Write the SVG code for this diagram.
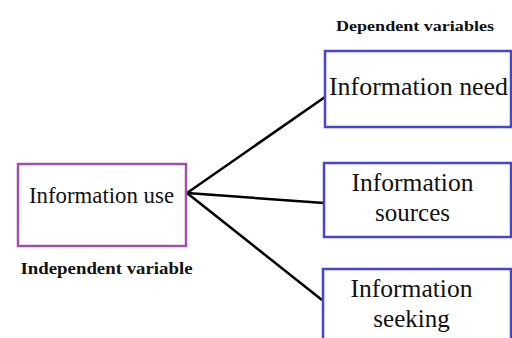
<svg xmlns="http://www.w3.org/2000/svg" width="512" height="338" viewBox="0 0 512 338">
<style>
.box{fill:#fff;stroke-width:2.5}
.iv{stroke:#A050AC}
.dv{stroke:#4646D6}
.t{font-family:'Liberation Serif','DejaVu Serif','Noto Serif',Times,serif;fill:#111;text-anchor:middle}
.lbl{font-family:'Liberation Serif','DejaVu Serif','Noto Serif',Times,serif;font-weight:bold;fill:#111}
.c{stroke:#000;stroke-width:2.5;fill:none}
</style>
<rect width="512" height="338" fill="#fff"/>
<g id="connectors">
<line class="c" x1="187" y1="193" x2="325" y2="97"/>
<line class="c" x1="187" y1="193" x2="324" y2="203"/>
<line class="c" x1="187" y1="193" x2="322" y2="300"/>
</g>
<g id="node-use">
<rect class="box iv" x="18" y="164" width="168" height="82"/>
<text class="t" x="101.5" y="203" font-size="23" textLength="145" lengthAdjust="spacingAndGlyphs">Information use</text>
</g>
<text class="lbl" x="20.5" y="274" font-size="16.5" textLength="172" lengthAdjust="spacingAndGlyphs">Independent variable</text>
<text class="lbl" x="336" y="31" font-size="15.5" textLength="158" lengthAdjust="spacingAndGlyphs">Dependent variables</text>
<g id="node-need">
<rect class="box dv" x="325" y="51" width="186" height="76"/>
<text class="t" x="418.5" y="95" font-size="25.5" textLength="179" lengthAdjust="spacingAndGlyphs">Information need</text>
</g>
<g id="node-sources">
<rect class="box dv" x="324" y="163" width="187" height="74"/>
<text class="t" x="412.5" y="191" font-size="25" textLength="122" lengthAdjust="spacingAndGlyphs">Information</text>
<text class="t" x="412.5" y="221" font-size="25">sources</text>
</g>
<g id="node-seeking">
<rect class="box dv" x="323" y="269" width="188" height="80"/>
<text class="t" x="411.5" y="297" font-size="25" textLength="122" lengthAdjust="spacingAndGlyphs">Information</text>
<text class="t" x="411.5" y="327" font-size="25">seeking</text>
</g>
</svg>
